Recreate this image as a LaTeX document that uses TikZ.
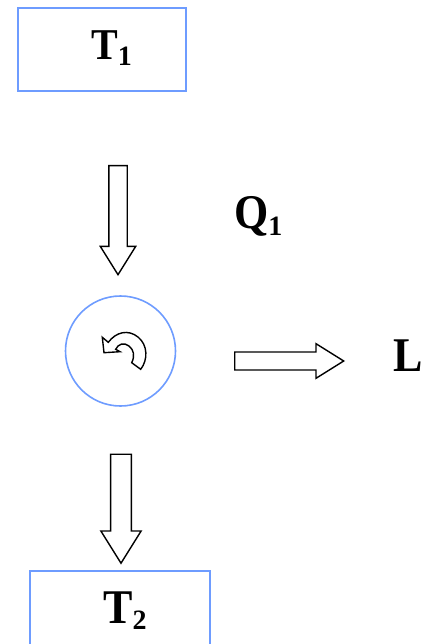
\documentclass[tikz,border=0pt]{standalone}
\usepackage{fontspec}
\setmainfont{Liberation Serif}
\usepackage{tikz}
\usetikzlibrary{arrows.meta, positioning, shapes, calc, shapes.arrows}
\definecolor{SourceBlue}{RGB}{110, 156, 255}
\newcommand{\sublabel}[2]{\scalebox{1}[1.1]{#1}\raisebox{-6pt}{\fontsize{28}{28}\selectfont #2}}

\begin{document}
\begin{tikzpicture}[
    x=1pt,
    y=-1pt,
    source/.style={
        draw=SourceBlue,
        line width=1.6pt,
        minimum width=#1,
        inner sep=0pt
    },
    tag/.style={
        anchor=base west,
        inner sep=0pt,
        font=\fontsize{#1}{46}\selectfont\bfseries
    },
    flow/.style={
        draw,
        line width=1.4pt,
        shape=single arrow,
        anchor=tail,
        inner xsep=0pt,
        inner ysep=#1,
        minimum height=109pt,
        single arrow tip angle=64,
        single arrow head extend=#1,
        single arrow head indent=0pt
    }
]

\useasboundingbox (0,0) rectangle (427,644);
\clip (0,0) rectangle (427,644);

\node[source=168pt, minimum height=83pt] (hot) at (102,49.5) {};
\node[source=180pt, minimum height=90pt] (cold) at (120,616) {};
\node[source=110pt, circle] (engine) at (120.5,351) {};

\node[tag=40] (hotlabel) at (91,60) {\sublabel{T}{1}};
\node[tag=44] (coldlabel) at (103,623) {\sublabel{T}{2}};
\node[tag=44] (heatlabel) at (234,229) {\sublabel{Q}{1}};
\node[tag=44] (worklabel) at (393,371) {\scalebox{1}[1.1]{L}};

\node[flow=8.5pt, rotate=-90] (heatin) at (118,165) {};
\node[flow=8.3pt] (workout) at (234,361) {};
\node[flow=9.7pt, rotate=-90] (heatout) at (121,453.5) {};

% turning arrow inside the engine
\draw[line width=1.4pt, fill=white]
    (140.7,369.3) .. controls (148,360) and (148,345) .. (138,337)
    .. controls (128,329) and (116,332) .. (108.3,342.3)
    -- (102.3,337.3) -- (104,352.7) -- (120,351.7) -- (115.7,349.3)
    .. controls (118,344) and (124,342) .. (129,346)
    .. controls (134,350) and (135,356) .. (131.7,362.7)
    -- cycle;

\end{tikzpicture}
\end{document}
